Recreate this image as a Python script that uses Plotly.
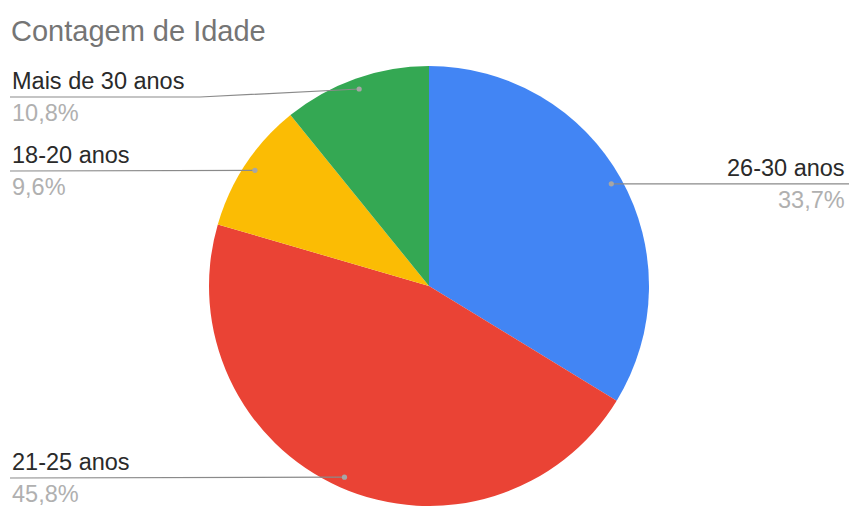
import math
import plotly.graph_objects as go

# Age-group counts (respondents)
categories = ["26-30 anos", "21-25 anos", "18-20 anos", "Mais de 30 anos"]
counts = [28, 38, 8, 9]
colors = ["#4285F4", "#EA4335", "#FBBC04", "#34A853"]

W, H = 849, 506
CX, CY, R = 429, 286, 220  # pie centre / radius in pixels
FONT = "Arial, Liberation Sans, sans-serif"

# Label placement per slice: side, y of the leader baseline, elbow x (None = straight)
label_side = ["right", "left", "left", "left"]
label_line_y = [None, 478, 171, 97]
label_elbow_x = [None, None, None, 200]


def px(x):
    return x / W


def py(y):
    return 1 - y / H


def pct_text(v, total):
    return f"{100 * v / total:.1f}%".replace(".", ",")


fig = go.Figure()
fig.add_trace(go.Pie(
    labels=categories,
    values=counts,
    sort=False,
    direction="clockwise",
    rotation=0,
    marker=dict(colors=colors, line=dict(width=0)),
    textinfo="none",
    hoverinfo="label+percent",
    showlegend=False,
    domain=dict(x=[px(CX - R), px(CX + R)], y=[py(CY + R), py(CY - R)]),
))

total = sum(counts)
shapes, annotations = [], []
cum = 0
for i, (cat, v) in enumerate(zip(categories, counts)):
    mid = (cum + v / 2) / total * 2 * math.pi
    cum += v
    dx = CX + 0.95 * R * math.sin(mid)
    dy = CY - 0.95 * R * math.cos(mid)
    ly = label_line_y[i] if label_line_y[i] is not None else dy
    end_x = W if label_side[i] == "right" else 10
    pts = [(dx, dy)]
    if label_elbow_x[i] is not None:
        pts.append((label_elbow_x[i], ly))
    pts.append((end_x, ly))
    path = "M " + " L ".join(f"{px(x)},{py(y)}" for x, y in pts)
    shapes.append(dict(type="path", path=path, xref="paper", yref="paper",
                       line=dict(color="#8a8a8a", width=1.2), layer="above"))
    r = 2.6
    shapes.append(dict(type="circle", xref="paper", yref="paper",
                       x0=px(dx - r), x1=px(dx + r), y0=py(dy + r), y1=py(dy - r),
                       fillcolor="#a6a6a6", line=dict(width=0), layer="above"))
    tx = W - 2 if label_side[i] == "right" else 10
    anchor = "right" if label_side[i] == "right" else "left"
    annotations.append(dict(text=cat, x=px(tx), y=py(ly - 1), xref="paper", yref="paper",
                            xanchor=anchor, yanchor="bottom", showarrow=False,
                            font=dict(family=FONT, size=23.5, color="#2a2a2a")))
    annotations.append(dict(text=pct_text(v, total), x=px(tx), y=py(ly + 1),
                            xref="paper", yref="paper",
                            xanchor=anchor, yanchor="top", showarrow=False,
                            font=dict(family=FONT, size=23.5, color="#b0b0b0")))

annotations.append(dict(text="Contagem de Idade", x=px(9), y=py(31), xref="paper", yref="paper",
                        xanchor="left", yanchor="middle", showarrow=False,
                        font=dict(family=FONT, size=29, color="#757575")))

fig.update_layout(
    width=W, height=H,
    margin=dict(l=0, r=0, t=0, b=0),
    paper_bgcolor="white", plot_bgcolor="white",
    shapes=shapes, annotations=annotations,
)

fig.write_html("out.html")
